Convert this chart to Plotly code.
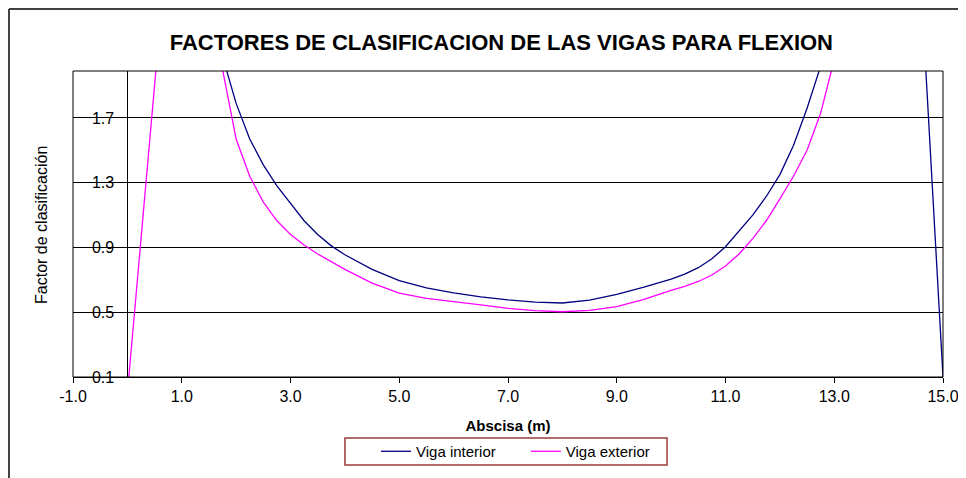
import plotly.graph_objects as go

# --- datos ---
ABSCISA = [0.0, 0.5, 1.0, 1.5, 1.75, 2.0, 2.25, 2.5, 2.75, 3.0, 3.25, 3.5, 3.75, 4.0,
           4.5, 5.0, 5.5, 6.0, 6.5, 7.0, 7.5, 8.0, 8.5, 9.0, 9.5, 10.0, 10.25,
           10.5, 10.75, 11.0, 11.25, 11.5, 11.75, 12.0, 12.25, 12.5, 12.75, 13.0,
           13.5, 14.0, 14.5, 15.0]

VIGA_INTERIOR = [4.0, 5.0, 4.0, 2.6, 2.08, 1.79, 1.57, 1.41, 1.28, 1.17, 1.065, 0.98,
                 0.91, 0.855, 0.765, 0.695, 0.65, 0.62, 0.595, 0.576, 0.562, 0.557,
                 0.575, 0.61, 0.655, 0.705, 0.735, 0.775, 0.83, 0.905, 1.0, 1.1,
                 1.215, 1.35, 1.53, 1.76, 2.02, 2.35, 3.5, 4.5, 3.1, 0.1]

VIGA_EXTERIOR = [0.0, 1.88, 3.8, 2.6, 2.0, 1.57, 1.34, 1.18, 1.065, 0.98, 0.915, 0.86,
                 0.81, 0.765, 0.68, 0.618, 0.585, 0.567, 0.545, 0.524, 0.51, 0.503,
                 0.512, 0.535, 0.58, 0.635, 0.66, 0.69, 0.73, 0.785, 0.86, 0.955,
                 1.065, 1.2, 1.34, 1.5, 1.73, 2.06, 3.2, 4.0, 4.5, 4.0]

Y_TICKS = [0.1, 0.5, 0.9, 1.3, 1.7]
X_TICKS = [-1, 1, 3, 5, 7, 9, 11, 13, 15]

FONT = "Liberation Sans, Arial, sans-serif"
NBSP = "\u00a0"

fig = go.Figure()
fig.add_trace(go.Scatter(x=ABSCISA, y=VIGA_INTERIOR, mode="lines",
                         name="Viga interior" + NBSP * 6,
                         line=dict(color="#000080", width=1.3)))
fig.add_trace(go.Scatter(x=ABSCISA, y=VIGA_EXTERIOR, mode="lines",
                         name="Viga exterior",
                         line=dict(color="#FF00FF", width=1.3)))

# la pagina deja 8 px de margen, por eso la figura es 958x470
fig.update_layout(
    width=958, height=470,
    margin=dict(l=65, r=23, t=63, b=101, autoexpand=False),
    paper_bgcolor="white", plot_bgcolor="white",
    font=dict(family=FONT, size=15, color="black"),
    title=dict(text="<b>FACTORES DE CLASIFICACION DE LAS VIGAS PARA FLEXION</b>",
               x=0.515, xanchor="center", y=0.928, yanchor="middle",
               font=dict(size=22, color="black")),
    showlegend=True,
    legend=dict(orientation="h", x=0.3483, xanchor="left", y=-0.2435, yanchor="middle",
                borderwidth=0, bgcolor="rgba(0,0,0,0)", font=dict(size=15),
                tracegroupgap=0),
)

fig.update_xaxes(
    range=[-1, 15], tickvals=X_TICKS, ticktext=[f"{v:.1f}" for v in X_TICKS],
    showgrid=False, zeroline=True, zerolinecolor="black", zerolinewidth=1,
    showline=True, linecolor="black", linewidth=1, automargin=False,
    ticks="outside", ticklen=5, tickcolor="black", tickfont=dict(size=16),
    title=dict(text="<b>Abscisa (m)</b>", standoff=16, font=dict(size=15)),
)

# eje Y cruzando en x = 0, como en la hoja de calculo
fig.update_yaxes(
    range=[0.1, 1.99], tickvals=Y_TICKS, tickformat=".1f",
    anchor="free", position=1 / 16, automargin=False,
    showgrid=True, gridcolor="black", gridwidth=1, zeroline=False,
    showline=True, linecolor="black", linewidth=1,
    ticks="", ticklabelstandoff=10, tickfont=dict(size=16),
)

fig.add_annotation(text="Factor de clasificación", textangle=-90,
                   xref="paper", yref="paper", x=-0.0356, y=0.497,
                   xanchor="center", yanchor="middle", showarrow=False,
                   font=dict(size=16))

# borde del area de trazado
fig.add_shape(type="rect", xref="paper", yref="paper", x0=0, x1=1, y0=0, y1=1,
              line=dict(color="black", width=1))

# recuadro de la leyenda
fig.add_shape(type="rect", xref="paper", yref="paper", x0=0.3126, x1=0.6828,
              y0=-0.2876, y1=-0.1993, line=dict(color="#9B3B3B", width=1.5))

# marco exterior del grafico (solo bordes superior e izquierdo visibles)
fig.add_shape(type="line", xref="paper", yref="paper", x0=-0.0736, x1=-0.0736,
              y0=1.2026, y1=-0.34, line=dict(color="#404040", width=2))
fig.add_shape(type="line", xref="paper", yref="paper", x0=-0.0736, x1=1.03,
              y0=1.2026, y1=1.2026, line=dict(color="#404040", width=2))

fig.write_html("out.html")
